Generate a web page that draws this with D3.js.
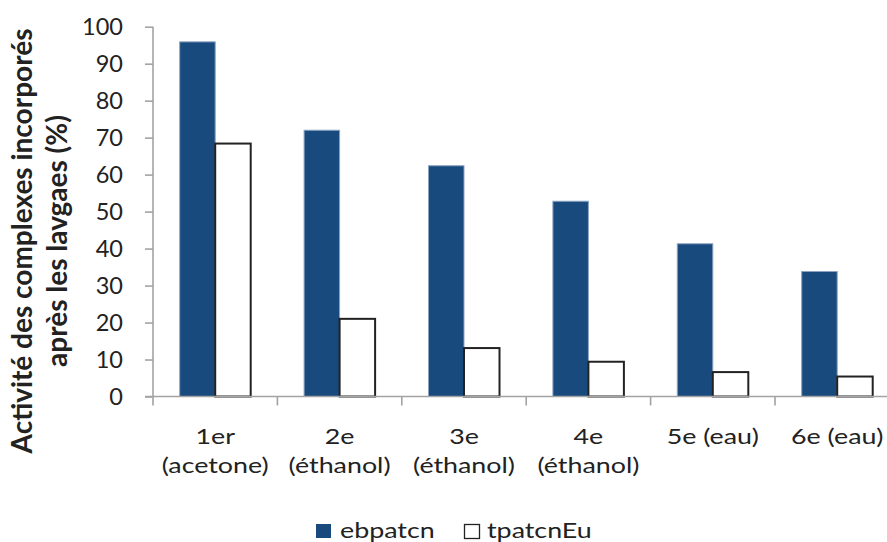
<!DOCTYPE html>
<html>
<head>
<meta charset="utf-8">
<script src="https://cdn.jsdelivr.net/npm/d3@7"></script>
<style>
  html, body { margin: 0; padding: 0; background: #fff; }
  svg { display: block; }
  text { font-family: Lato, "Open Sans", sans-serif; fill: #222; }
</style>
</head>
<body>
<svg id="chart" width="887" height="542"></svg>
<script>
// ---- data ----
const categories = ["1er (acetone)", "2e (éthanol)", "3e (éthanol)", "4e (éthanol)", "5e (eau)", "6e (eau)"];
const categoryLines = [["1er", "(acetone)"], ["2e", "(éthanol)"], ["3e", "(éthanol)"], ["4e", "(éthanol)"], ["5e (eau)"], ["6e (eau)"]];
const seriesNames = ["ebpatcn", "tpatcnEu"];
const ebpatcn = [95.9, 72.0, 62.4, 52.8, 41.3, 33.8];
const tpatcnEu = [68.4, 21.0, 13.1, 9.4, 6.6, 5.4];
const yTicks = [0, 10, 20, 30, 40, 50, 60, 70, 80, 90, 100];
const yTitleLines = ["Activité des complexes incorporés", "après les lavgaes (%)"];

const seriesValues = { ebpatcn: ebpatcn, tpatcnEu: tpatcnEu };
const fills = { ebpatcn: "#184a7d", tpatcnEu: "#ffffff" };
const strokes = { ebpatcn: "#8ba3c2", tpatcnEu: "#222222" };
const strokeW = { ebpatcn: 1, tpatcnEu: 2 };
const textStretch = 1.22;

const svg = d3.select("#chart");

const x0 = d3.scaleBand().domain(categories).range([153, 899.4]).paddingInner(0).paddingOuter(0);
const x1 = d3.scaleBand().domain(seriesNames).range([0, x0.bandwidth()]).paddingInner(0).paddingOuter(0.752);
const y = d3.scaleLinear().domain([0, 100]).range([396.5, 26.7]);

const axisColor = "#a3a3a3";

// y axis
const yAxis = svg.append("g").attr("transform", `translate(${x0.range()[0]},0)`)
  .call(d3.axisLeft(y).tickValues(yTicks).tickSize(8).tickPadding(22).tickFormat(d3.format("d")));
yAxis.select(".domain").attr("stroke", axisColor).attr("stroke-width", 1.6).attr("d", `M0,${y(100)}V${y(0)}`);
yAxis.selectAll(".tick line").attr("stroke", axisColor).attr("stroke-width", 1.6);
yAxis.selectAll(".tick text").attr("font-size", 23.5).attr("fill", "#222").attr("font-family", "Lato, 'Open Sans', sans-serif");

// bars
const groups = svg.append("g").selectAll("g").data(categories).join("g")
  .attr("transform", d => `translate(${x0(d)},0)`);
groups.selectAll("rect").data((d, i) => seriesNames.map(s => ({ s, v: seriesValues[s][i] }))).join("rect")
  .attr("x", d => x1(d.s))
  .attr("y", d => y(d.v))
  .attr("width", x1.bandwidth())
  .attr("height", d => y(0) - y(d.v))
  .attr("fill", d => fills[d.s])
  .attr("stroke", d => strokes[d.s])
  .attr("stroke-width", d => strokeW[d.s]);

// x axis
const xAxis = svg.append("g").attr("transform", `translate(0,${y(0)})`)
  .call(d3.axisBottom(x0).tickSize(0).tickFormat(""));
xAxis.select(".domain").attr("stroke", axisColor).attr("stroke-width", 1.6).attr("d", `M${x0.range()[0] - 8},0H${x0.range()[1]}`);
xAxis.selectAll(".tick").remove();
const boundaries = categories.map(c => x0(c)).concat([x0.range()[1]]);
xAxis.selectAll("line.bt").data(boundaries).join("line").attr("class", "bt")
  .attr("x1", d => d).attr("x2", d => d).attr("y1", 0).attr("y2", 9)
  .attr("stroke", axisColor).attr("stroke-width", 1.6);

// category labels
const labels = svg.append("g").selectAll("text").data(categories).join("text")
  .attr("text-anchor", "middle")
  .attr("font-size", 22)
  .attr("transform", d => `translate(${x0(d) + x0.bandwidth() / 2},444) scale(${textStretch},1)`);
labels.selectAll("tspan").data((d, i) => categoryLines[i]).join("tspan")
  .attr("x", 0)
  .attr("dy", (d, i) => i === 0 ? 0 : 29)
  .text(d => d);

// y title
svg.append("g").selectAll("text").data(yTitleLines).join("text")
  .attr("transform", (d, i) => `translate(${i === 0 ? 32 : 67},241) rotate(-90)`)
  .attr("text-anchor", "middle")
  .attr("font-weight", "bold")
  .attr("font-size", 28)
  .text(d => d);

// legend
const legendX = [316, 464];
const leg = svg.append("g").selectAll("g").data(seriesNames).join("g")
  .attr("transform", (d, i) => `translate(${legendX[i]},524)`);
leg.append("rect")
  .attr("x", (d) => d === "tpatcnEu" ? 0.5 : 0).attr("y", d => d === "tpatcnEu" ? 0.5 : 0)
  .attr("width", d => d === "tpatcnEu" ? 15 : 15).attr("height", d => d === "tpatcnEu" ? 14 : 14)
  .attr("fill", d => fills[d])
  .attr("stroke", d => d === "tpatcnEu" ? "#222" : "none")
  .attr("stroke-width", 1.3);
leg.append("text")
  .attr("transform", (d, i) => `translate(${i === 0 ? 24 : 23},14) scale(${textStretch},1)`)
  .attr("font-size", 22)
  .text(d => d);
</script>
</body>
</html>
